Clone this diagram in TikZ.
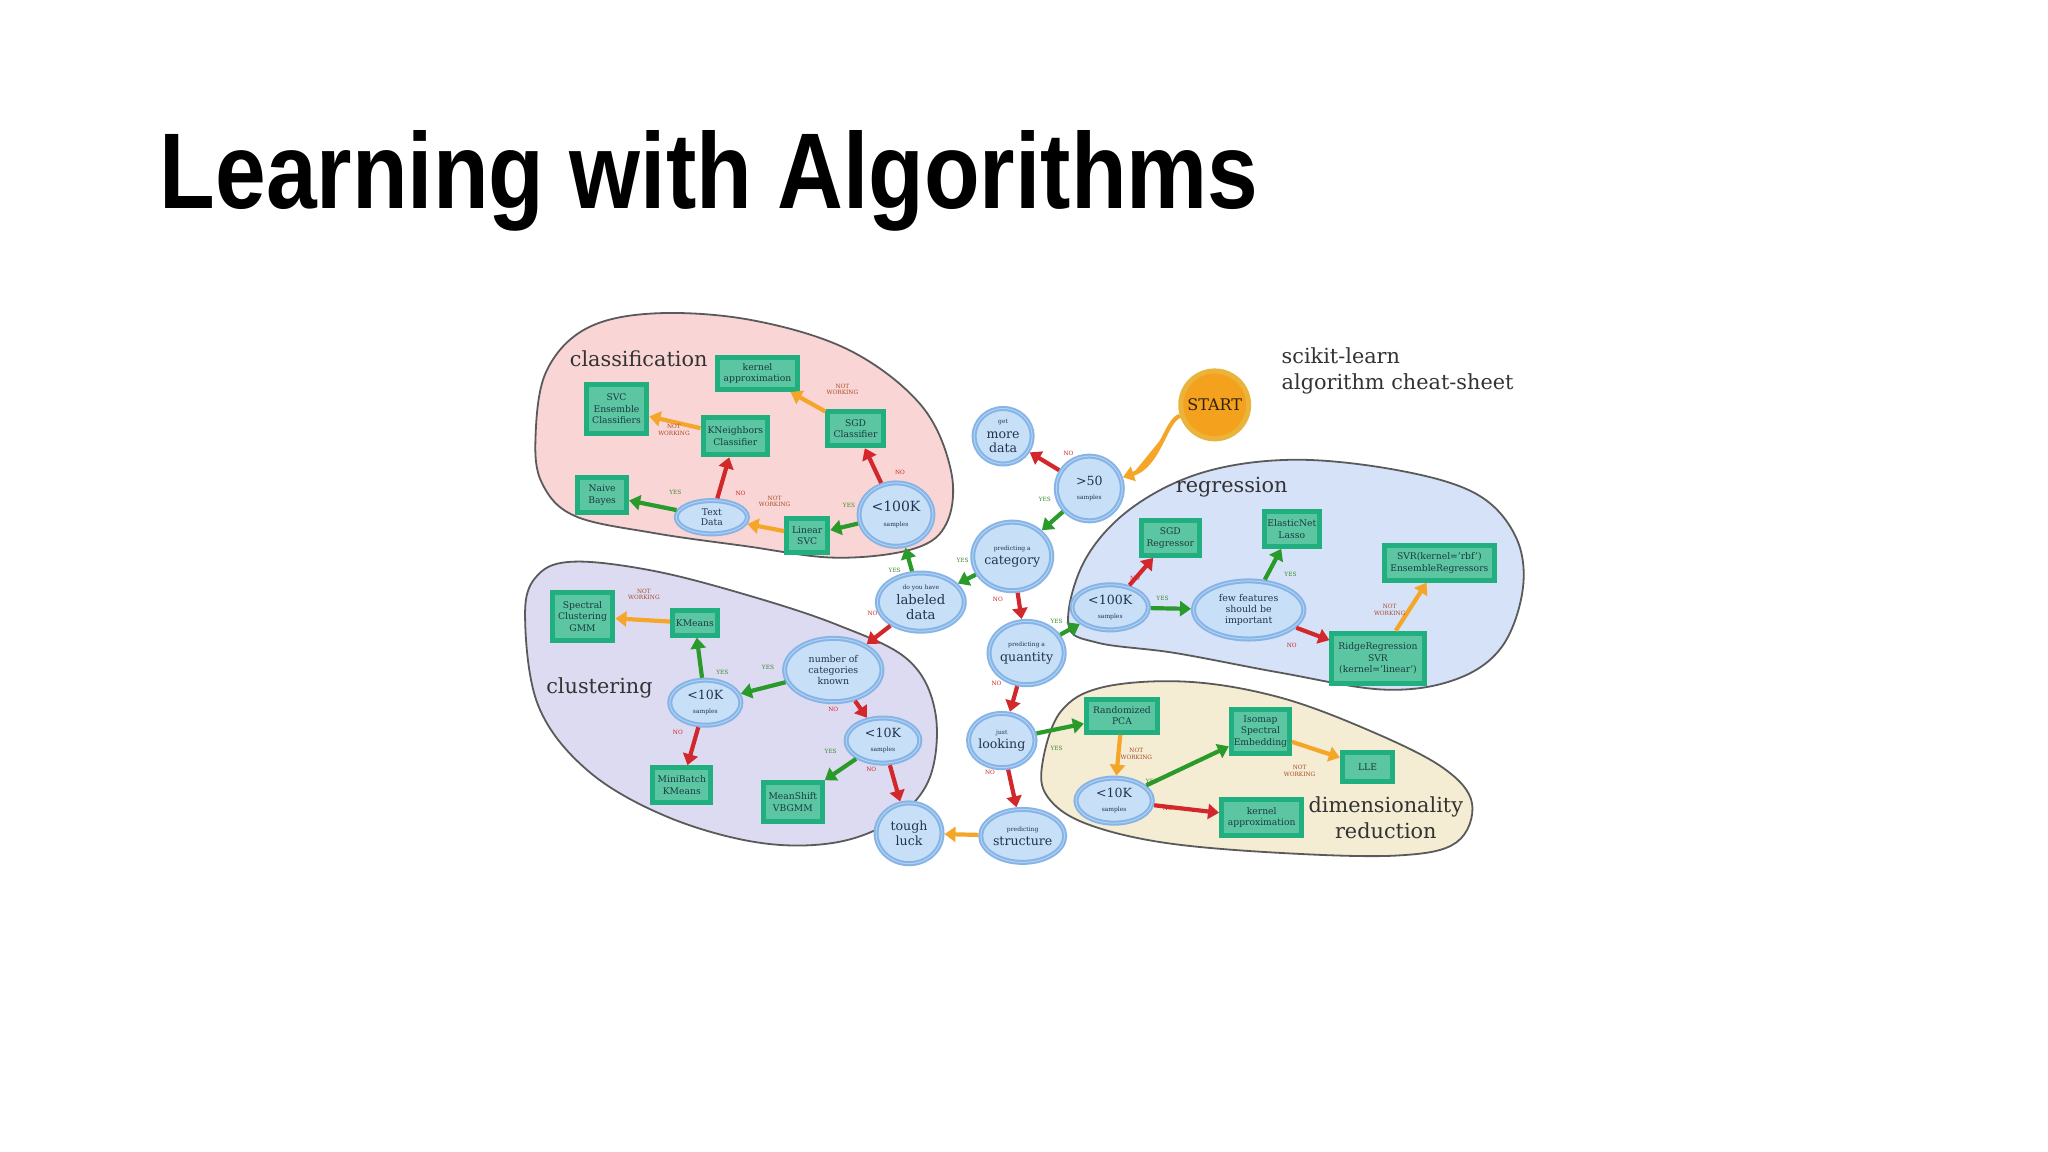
\documentclass[tikz,border=0pt]{standalone}
\usepackage{fontspec}
\setmainfont{DejaVu Serif}
\newfontfamily\titlefont{Liberation Sans}
\usetikzlibrary{shapes.geometric,arrows.meta}
\definecolor{boxo}{HTML}{22AF80}
\definecolor{boxi}{HTML}{5CC6A2}
\definecolor{boxt}{HTML}{1C3A40}
\definecolor{ringc}{HTML}{86B4E6}
\definecolor{ringl}{HTML}{B0D2F4}
\definecolor{ellf}{HTML}{C7E0F8}
\definecolor{ellt}{HTML}{23334F}
\definecolor{garr}{HTML}{2A9A2A}
\definecolor{rarr}{HTML}{D2282B}
\definecolor{oarr}{HTML}{F5A628}
\definecolor{yesc}{HTML}{3A8A2A}
\definecolor{noc}{HTML}{D02020}
\definecolor{nwc}{HTML}{A84A24}
\definecolor{pinkb}{HTML}{F9D6D5}
\definecolor{lavb}{HTML}{DDDBF1}
\definecolor{blueb}{HTML}{D6E2F8}
\definecolor{beigeb}{HTML}{F4ECD3}
\definecolor{blobline}{HTML}{5A5A5A}
\definecolor{startf}{HTML}{F4A21E}
\definecolor{startr}{HTML}{EAB43C}
\newcommand\smt[1]{{\fontsize{3}{3.6}\selectfont #1}}
\begin{document}
\begin{tikzpicture}[x=0.653pt,y=-0.653pt,
  bx/.style 2 args={rectangle, draw=boxo, line width=2.5pt, fill=boxi, text=boxt,
    align=center, inner sep=1pt, minimum width={(#1-3.5)*0.653pt},
    minimum height={(#2-3.5)*0.653pt}, font=\fontsize{4.6}{5.7}\selectfont},
  el/.style 2 args={ellipse, draw=ringc, line width=2.5pt, fill=ellf, text=ellt,
    postaction={draw=ringl, line width=0.5pt},
    align=center, inner sep=0pt, minimum width={(#1-3.5)*0.653pt},
    minimum height={(#2-3.5)*0.653pt}, font=\fontsize{6.3}{7.1}\selectfont},
  startnode/.style={circle, draw=startr, line width=2.5pt, fill=startf,
    text=black!75!brown, inner sep=0pt, minimum size={52*0.653pt},
    font=\fontsize{8}{9}\selectfont},
  blob/.style={draw=blobline, line width=0.9pt},
  ar/.style={line width=2.1pt, -{Triangle[width=7.5pt,length=5.5pt]}},
  ga/.style={ar, draw=garr, fill=garr},
  ra/.style={ar, draw=rarr, fill=rarr},
  oa/.style={ar, draw=oarr, fill=oarr},
  lab/.style={font=\fontsize{2.9}{3.3}\selectfont, inner sep=0pt, align=center},
  yl/.style={lab, text=yesc},
  nl/.style={lab, text=noc},
  wl/.style={lab, text=nwc},
  reg/.style={font=\fontsize{10.4}{12.7}\selectfont, text=black!80, inner sep=0pt, align=center}
]
\useasboundingbox (0,0) rectangle (1568,882);
\fill[white] (0,0) rectangle (1568,882);

% title
\node[anchor=base west, inner sep=0pt] (title) at (122,160)
  {\resizebox{549pt}{39pt}{\titlefont\bfseries Learning with Algorithms}};

% blobs
\draw[blob, fill=pinkb] plot[smooth cycle, tension=0.6] coordinates {
  (410,335) (418,285) (448,252) (500,240) (575,245) (650,268) (705,310)
  (728,360) (725,400) (700,420) (640,427) (570,418) (500,408) (440,395) (415,370)};
\draw[blob, fill=lavb] plot[smooth cycle, tension=0.6] coordinates {
  (402,470) (412,440) (440,430) (500,437) (570,455) (640,478) (695,505)
  (716,545) (712,595) (685,627) (640,645) (580,645) (510,625) (450,590) (412,540)};
\draw[blob, fill=blueb] plot[smooth cycle, tension=0.6] coordinates {
  (818,478) (830,430) (865,390) (920,362) (990,352) (1070,360) (1130,378)
  (1160,410) (1166,450) (1150,495) (1115,520) (1060,528) (980,515) (900,500) (840,492)};
\draw[blob, fill=beigeb] plot[smooth cycle, tension=0.6] coordinates {
  (798,585) (812,545) (845,526) (910,522) (980,534) (1050,560) (1105,588)
  (1127,615) (1115,645) (1070,655) (980,653) (890,645) (830,630) (802,610)};

% region labels
\node[reg] (lcls) at (489,275) {classification};
\node[reg] (lclu) at (459,527) {clustering};
\node[reg] (lreg) at (943,373) {regression};
\node[reg] (ldim) at (1061,626) {dimensionality\\reduction};
\node[reg, anchor=west, align=left] (lsk) at (981,284) {scikit-learn\\algorithm cheat-sheet};

% classification nodes
\node[bx={65}{28}] (ka1) at (580,286) {kernel\\approximation};
\node[bx={50}{41}] (svce) at (472,313) {SVC\\Ensemble\\Classifiers};
\node[bx={53}{32}] (knc) at (563,334) {KNeighbors\\Classifier};
\node[bx={46}{30}] (sgdc) at (655,328) {SGD\\Classifier};
\node[bx={41}{30}] (nb) at (461,379) {Naive\\Bayes};
\node[bx={35}{29}] (lsvc) at (618,410) {Linear\\SVC};
\node[el={58}{29}, font=\fontsize{4.6}{5.4}\selectfont] (txt) at (545,396) {Text\\Data};
\node[el={60}{52}, font=\fontsize{7}{7.5}\selectfont] (hk1) at (686,394) {<100K\\\smt{samples}};

% central nodes
\node[startnode] (start) at (930,310) {START};
\node[el={54}{53}] (g50) at (834,374) {>50\\\smt{samples}};
\node[el={48}{46}] (more) at (768,334) {\smt{get}\\more\\data};
\node[el={56}{56}] (cat) at (775,426) {\smt{predicting a}\\category};
\node[el={70}{48}, font=\fontsize{6.6}{7.6}\selectfont] (lab) at (705,461) {\smt{do you have}\\labeled\\data};
\node[el={52}{52}] (qty) at (786,500) {\smt{predicting a}\\quantity};
\node[el={52}{45}] (look) at (767,567) {\smt{just}\\looking};
\node[el={58}{44}] (struct) at (783,640) {\smt{predicting}\\structure};
\node[el={54}{50}] (tough) at (696,638) {tough\\luck};

% clustering nodes
\node[bx={50}{40}] (spec) at (446,472) {Spectral\\Clustering\\GMM};
\node[bx={38}{22}] (km) at (532,477) {KMeans};
\node[el={78}{52}, font=\fontsize{4.7}{5.7}\selectfont] (ncat) at (638,513) {number of\\categories\\known};
\node[el={58}{38}] (tkl) at (540,538) {<10K\\\smt{samples}};
\node[el={60}{38}] (tkr) at (676,567) {<10K\\\smt{samples}};
\node[bx={48}{30}] (mbk) at (522,601) {MiniBatch\\KMeans};
\node[bx={49}{33}] (ms) at (607,614) {MeanShift\\VBGMM};

% regression nodes
\node[bx={48}{30}] (sgdr) at (896,412) {SGD\\Regressor};
\node[bx={46}{30}] (enl) at (989,405) {ElasticNet\\Lasso};
\node[bx={88}{30}] (svr) at (1102,431) {SVR(kernel='rbf')\\EnsembleRegressors};
\node[el={62}{38}] (hk2) at (850,465) {<100K\\\smt{samples}};
\node[el={88}{48}, font=\fontsize{4.7}{5.7}\selectfont] (few) at (956,467) {few features\\should be\\important};
\node[bx={74}{42}] (ridge) at (1055,504) {RidgeRegression\\SVR\\(kernel='linear')};

% dimensionality reduction nodes
\node[bx={58}{29}] (rpca) at (859,548) {Randomized\\PCA};
\node[bx={48}{37}] (iso) at (965,560) {Isomap\\Spectral\\Embedding};
\node[bx={42}{26}] (lle) at (1047,587) {LLE};
\node[el={62}{38}] (tkd) at (853,613) {<10K\\\smt{samples}};
\node[bx={65}{31}] (ka2) at (966,626) {kernel\\approximation};

% connectors: classification
\draw[ga] (hk1) -- (lsvc);
\draw[ra] (hk1) -- (sgdc);
\draw[oa] (sgdc) -- (ka1);
\draw[oa] (lsvc) -- (txt);
\draw[ga] (txt) -- (nb);
\draw[ra] (txt) -- (knc);
\draw[oa] (knc) -- (svce);
% central
\draw[oa] (start) .. controls (892,322) and (888,356) .. (g50);
\draw[ra] (g50) -- (more);
\draw[ga] (g50) -- (cat);
\draw[ga] (cat) -- (lab);
\draw[ga] (lab) -- (hk1);
\draw[ra] (lab) -- (ncat);
\draw[ra] (cat) -- (qty);
\draw[ga] (qty) -- (hk2);
\draw[ra] (qty) -- (look);
\draw[ga] (look) -- (rpca);
\draw[ra] (look) -- (struct);
\draw[oa] (struct) -- (tough);
% clustering
\draw[ga] (ncat) -- (tkl);
\draw[ga] (tkl) -- (km);
\draw[oa] (km) -- (spec);
\draw[ra] (tkl) -- (mbk);
\draw[ra] (ncat) -- (tkr);
\draw[ga] (tkr) -- (ms);
\draw[ra] (tkr) -- (tough);
% regression
\draw[ra] (hk2) -- (sgdr);
\draw[ga] (hk2) -- (few);
\draw[ga] (few) -- (enl);
\draw[ra] (few) -- (ridge);
\draw[oa] (ridge) -- (svr);
% dimensionality reduction
\draw[oa] (rpca) -- (tkd);
\draw[ga] (tkd) -- (iso);
\draw[ra] (tkd) -- (ka2);
\draw[oa] (iso) -- (lle);

% connector labels
\node[yl] (c1) at (650,387) {YES};
\node[nl] (c2) at (689,362) {NO};
\node[wl] (c3) at (645,298) {NOT\\WORKING};
\node[wl] (c4) at (593,384) {NOT\\WORKING};
\node[yl] (c5) at (517,377) {YES};
\node[nl] (c6) at (567,378) {NO};
\node[wl] (c7) at (516,329) {NOT\\WORKING};
\node[nl] (c8) at (818,347) {NO};
\node[yl] (c9) at (800,382) {YES};
\node[yl] (c10) at (737,429) {YES};
\node[yl] (c11) at (685,437) {YES};
\node[nl] (c12) at (668,470) {NO};
\node[nl] (c13) at (764,459) {NO};
\node[yl] (c14) at (809,476) {YES};
\node[nl] (c15) at (763,523) {NO};
\node[yl] (c16) at (809,573) {YES};
\node[nl] (c17) at (758,591) {NO};
\node[yl] (c18) at (588,511) {YES};
\node[yl] (c19) at (553,515) {YES};
\node[wl] (c20) at (493,455) {NOT\\WORKING};
\node[nl] (c21) at (519,561) {NO};
\node[nl] (c22) at (638,543) {NO};
\node[yl] (c23) at (636,575) {YES};
\node[nl] (c24) at (667,589) {NO};
\node[nl] (c25) at (869,443) {NO};
\node[yl] (c26) at (890,458) {YES};
\node[yl] (c27) at (988,440) {YES};
\node[nl] (c28) at (989,494) {NO};
\node[wl] (c29) at (1064,467) {NOT\\WORKING};
\node[wl] (c30) at (870,577) {NOT\\WORKING};
\node[yl] (c31) at (882,598) {YES};
\node[nl] (c32) at (894,619) {NO};
\node[wl] (c33) at (995,590) {NOT\\WORKING};
\end{tikzpicture}
\end{document}
